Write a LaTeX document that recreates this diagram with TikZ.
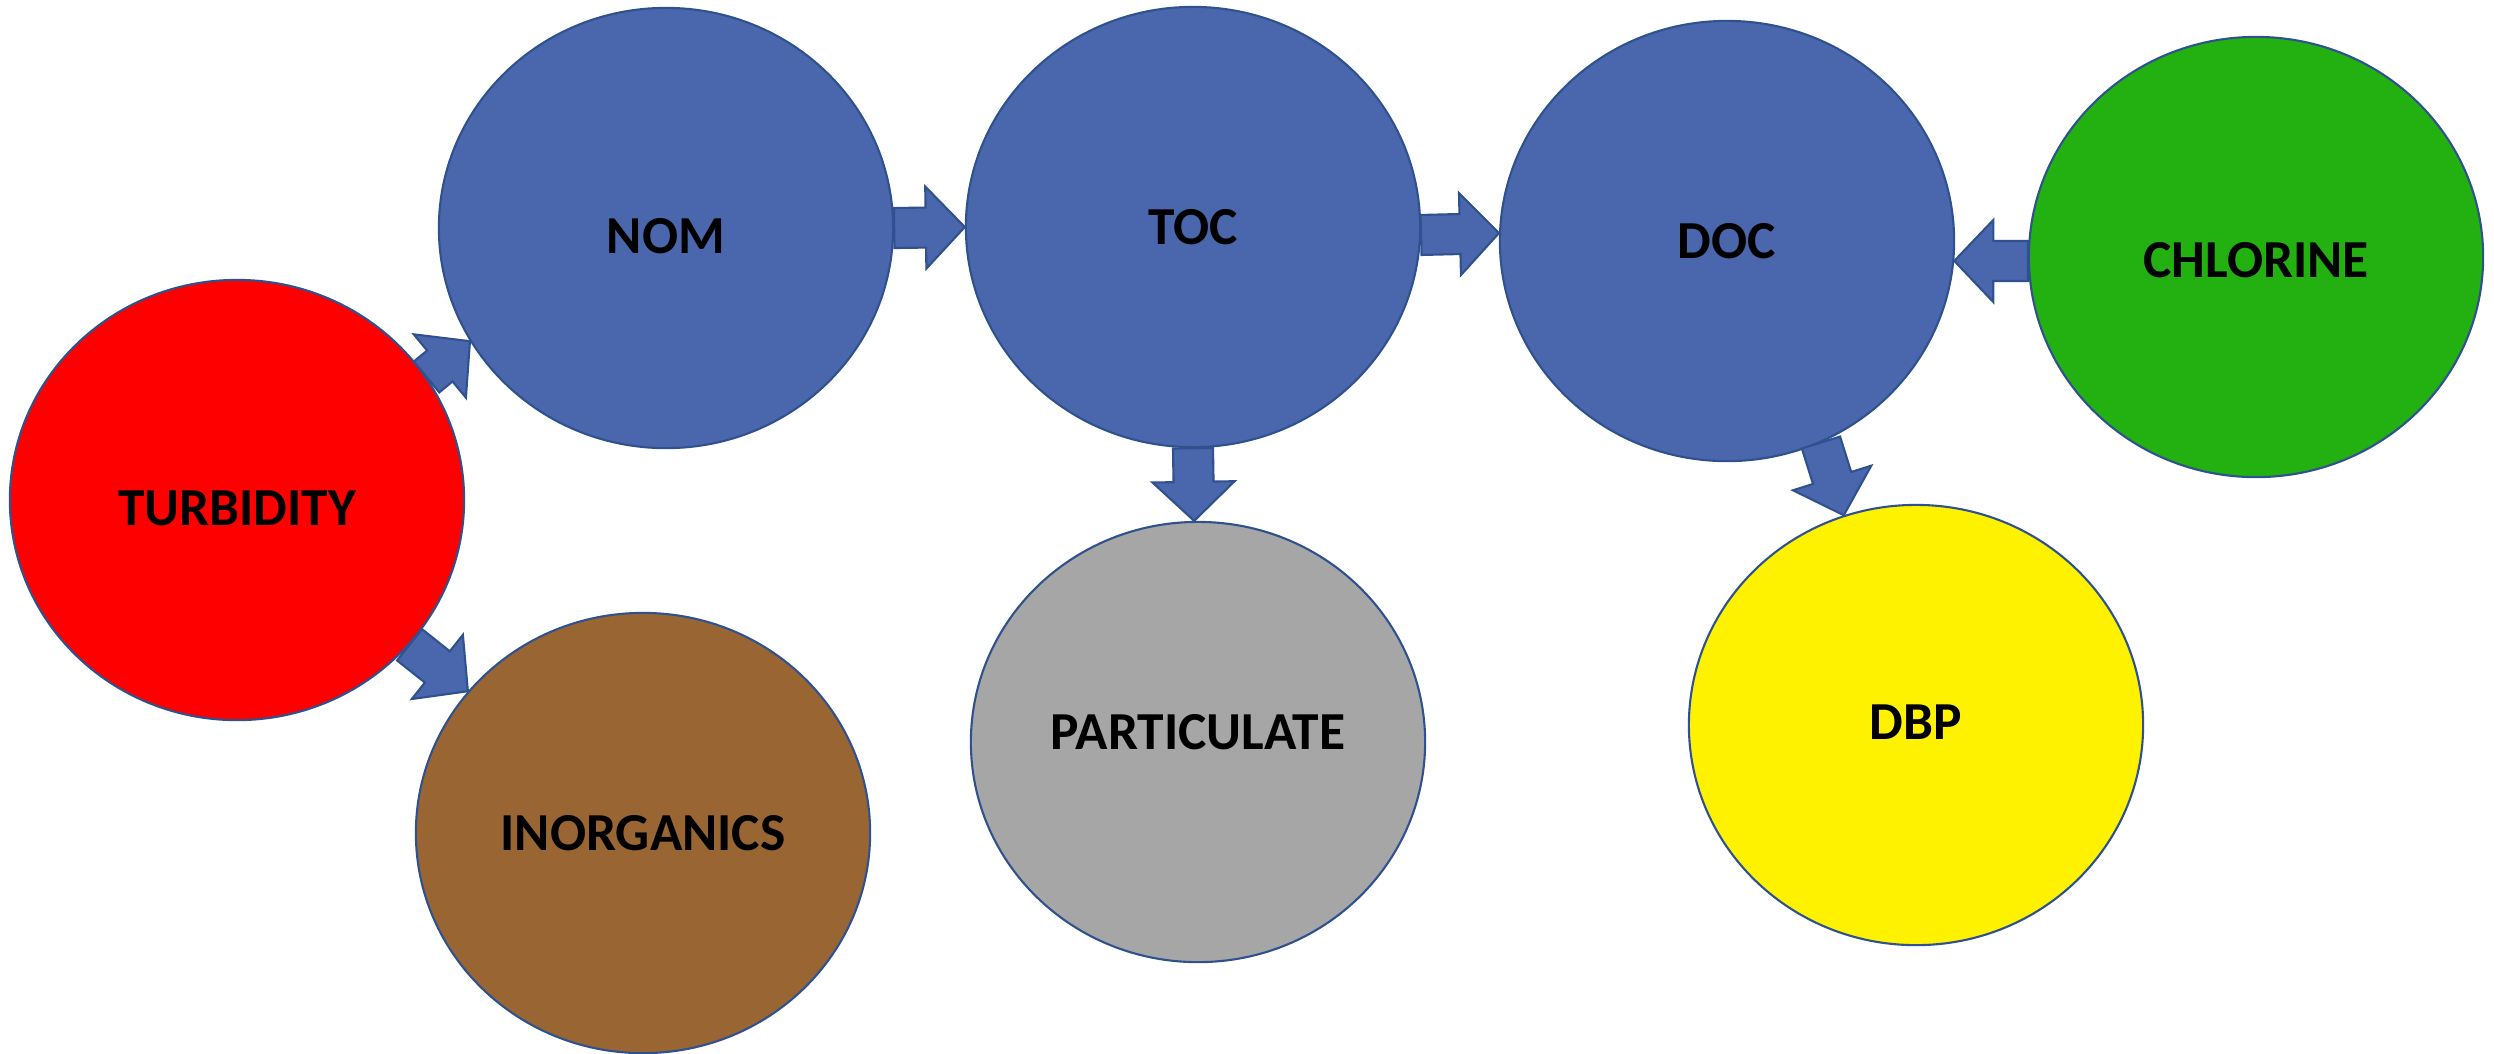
\documentclass[tikz,border=0pt]{standalone}
\usepackage{fontspec}
\setmainfont{Carlito}
\usetikzlibrary{calc,shapes.geometric}
\definecolor{edge}{HTML}{2F528F}
\definecolor{slate}{HTML}{4A66AC}
\definecolor{grass}{HTML}{22B111}
\definecolor{mud}{HTML}{996633}
\definecolor{ash}{HTML}{A6A6A6}
\tikzset{blob/.style={ellipse,draw=edge,line width=0.6pt,minimum width=4.54cm,minimum height=4.40cm,inner sep=0pt},
  lbl/.style={inner sep=1pt,font=\bfseries\fontsize{15.2}{18}\selectfont},
  barrow/.style={fill=slate,draw=edge,line width=0.6pt,line join=miter}}
% block arrow from tail #1 to tip #2
\newcommand{\blockarrow}[2]{%
  \coordinate (bat) at (#1);
  \coordinate (bah) at (#2);
  \coordinate (bab) at ($(bah)!0.39cm!(bat)$);
  \draw[barrow] ($(bat)!0.2cm!90:(bah)$) -- ($(bab)!0.2cm!-90:(bat)$)
    -- ($(bab)!0.41cm!-90:(bat)$) -- (bah) -- ($(bab)!0.41cm!90:(bat)$)
    -- ($(bab)!0.2cm!90:(bat)$) -- ($(bat)!0.2cm!-90:(bah)$) -- cycle;}

\begin{document}
\begin{tikzpicture}[x=0.01cm,y=-0.01cm]
\useasboundingbox (0,0) rectangle (2494,1053);
\node[blob,fill=red] (turb) at (237,500) {};
\node[blob,fill=slate] (nom) at (666,228) {};
\node[blob,fill=slate] (toc) at (1193,227) {};
\node[blob,fill=slate] (doc) at (1727,241) {};
\node[blob,fill=grass] (chl) at (2256,257) {};
\node[blob,fill=ash] (part) at (1198,742) {};
\node[blob,fill=mud] (inorg) at (643,833) {};
\node[blob,fill=yellow] (dbp) at (1916,725) {};
% labels
\foreach \n/\dy/\t in {turb/8/TURBIDITY,nom/8/NOM,toc/0/TOC,doc/0/DOC,chl/3/CHLORINE,
    part/-10/PARTICULATE,inorg/0/INORGANICS,dbp/-3/DBP}
  \node[lbl] (\n-t) at ([yshift=-\dy*0.01cm]\n.center) {\t};
% arrows
\blockarrow{turb.33}{nom.210}
\blockarrow{turb.-40}{inorg.141}
\blockarrow{nom.east}{toc.west}
\blockarrow{toc.-2}{doc.178.5}
\blockarrow{chl.181}{doc.-5}
\blockarrow{toc.south}{part.91}
\blockarrow{doc.-65}{dbp.109}
\end{tikzpicture}
\end{document}
